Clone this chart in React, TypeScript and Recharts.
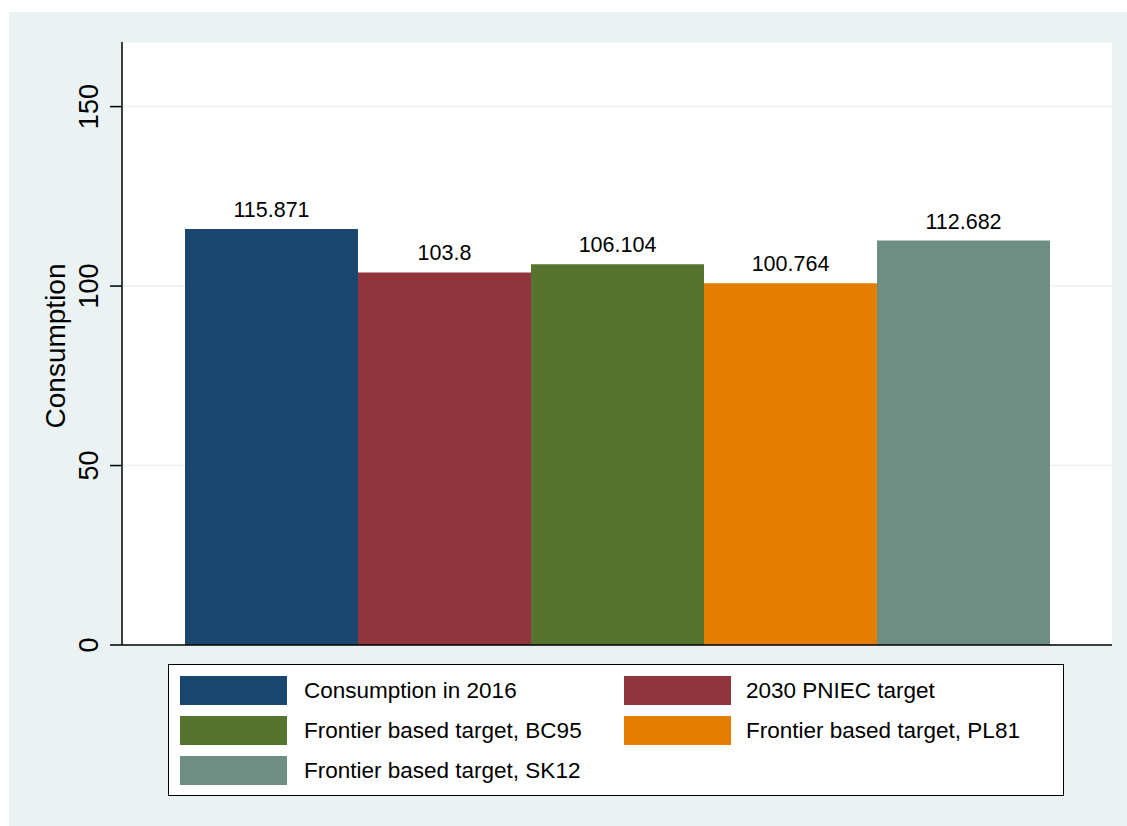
import React from 'react';
import { BarChart, Bar, XAxis, YAxis, CartesianGrid, Legend, LabelList } from 'recharts';

const categories = ['all'];
const seriesNames = [
  'Consumption in 2016',
  '2030 PNIEC target',
  'Frontier based target, BC95',
  'Frontier based target, PL81',
  'Frontier based target, SK12',
];
const seriesValues = [115.871, 103.8, 106.104, 100.764, 112.682];
const seriesColors = ['#1A476F', '#90353B', '#55752F', '#E37E00', '#6E8E84'];
const yTicks = [0, 50, 100, 150];

const data = categories.map(c => {
  const row: Record<string, string | number> = { name: c };
  seriesValues.forEach((v, i) => { row['s' + i] = v; });
  return row;
});

const FONT = '"Liberation Sans", Arial, sans-serif';

const YTick = (props: any) => {
  const { x, y, payload } = props;
  const tx = x - 10;
  return (
    <text x={tx} y={y} transform={`rotate(-90, ${tx}, ${y})`} textAnchor="middle"
      fontSize={27} fontFamily={FONT} fill="#000">
      {payload.value}
    </text>
  );
};

const LegendBox = () => {
  // two columns, filled row by row
  return (
    <div style={{
      width: 894, height: 130, border: '1.5px solid #000', background: '#fff',
      position: 'relative', fontFamily: FONT, fontSize: 22.5, color: '#000',
    }}>
      {seriesNames.map((n, i) => {
        const col = i % 2;
        const row = Math.floor(i / 2);
        const left = col === 0 ? 11 : 455;
        return (
          <div key={n} style={{ position: 'absolute', left, top: 11 + row * 40, display: 'flex', alignItems: 'center', height: 29 }}>
            <div style={{ width: 107, height: 29, background: seriesColors[i] }} />
            <span style={{ marginLeft: col === 0 ? 17 : 15, whiteSpace: 'nowrap' }}>{n}</span>
          </div>
        );
      })}
    </div>
  );
};

export default function App() {
  return (
    <div style={{ position: 'absolute', left: 9, top: 12, width: 1118, height: 814, background: '#EAF2F3' }}>
      <BarChart width={1118} height={814} data={data}
        margin={{ top: 30, right: 15, bottom: 180, left: 0 }}
        barCategoryGap={63} barGap={0}>
        <CartesianGrid vertical={false} stroke="#EAF2F3" strokeWidth={1.5} fill="#fff" fillOpacity={1} />
        <XAxis dataKey="name" tick={false} tickLine={false} height={1}
          axisLine={{ stroke: '#000', strokeWidth: 1.5 }} />
        <YAxis width={113} domain={[0, 168]} ticks={yTicks} tickSize={12} tick={<YTick />}
          axisLine={{ stroke: '#000', strokeWidth: 1.5 }} tickLine={{ stroke: '#000', strokeWidth: 1.5 }}
          label={{
            content: () => (
              <text x={56} y={334} transform="rotate(-90, 56, 334)" textAnchor="middle"
                fontSize={28} fontFamily={FONT} fill="#000">Consumption</text>
            ),
          }} />
        <Legend layout="vertical" align="center" verticalAlign="middle" content={<LegendBox />}
          wrapperStyle={{ left: 159, top: 652, width: 897, height: 133 }} />
        {seriesValues.map((_, i) => (
          <Bar key={i} dataKey={'s' + i} name={seriesNames[i]} fill={seriesColors[i]} isAnimationActive={false}>
            <LabelList dataKey={'s' + i} position="top" offset={12} fontSize={21.5} fontFamily={FONT} fill="#000" />
          </Bar>
        ))}
      </BarChart>
    </div>
  );
}
